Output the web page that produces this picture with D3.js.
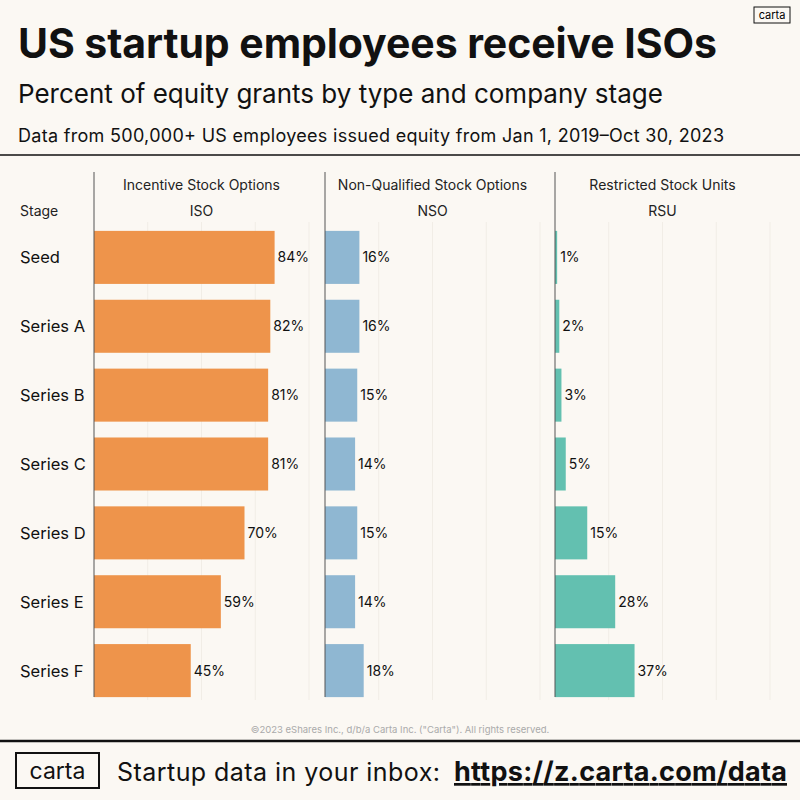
<!DOCTYPE html>
<html><head><meta charset="utf-8">
<script src="https://cdn.jsdelivr.net/npm/d3@7"></script>
<style>body{margin:0;background:#fbf8f3}</style>
</head><body><div id="chart"></div>
<script>
var stages = ["Seed","Series A","Series B","Series C","Series D","Series E","Series F"]
var iso = [84,82,81,81,70,59,45]
var nso = [16,16,15,14,15,14,18]
var rsu = [1,2,3,5,15,28,37]
var panelNames = ["Incentive Stock Options","Non-Qualified Stock Options","Restricted Stock Units"]
var panelCodes = ["ISO","NSO","RSU"]
var panelColors = ["#ee944b","#8fb7d2","#63c0b0"]
var panelStarts = [94,325,555]

var font = "Inter, 'Noto Sans', sans-serif"
var svg = d3.select("#chart").append("svg").attr("width",800).attr("height",800)
  .style("font-family",font)
svg.append("rect").attr("width",800).attr("height",800).attr("fill","#fbf8f3")

svg.append("text").attr("x",18).attr("y",58).attr("font-size",41).attr("font-weight",700)
  .attr("fill","#111").attr("textLength",699).text("US startup employees receive ISOs")
svg.append("text").attr("x",18).attr("y",103).attr("font-size",26).attr("fill","#111")
  .text("Percent of equity grants by type and company stage")
svg.append("text").attr("x",18).attr("y",142).attr("font-size",18).attr("fill","#111")
  .attr("textLength",706).text("Data from 500,000+ US employees issued equity from Jan 1, 2019–Oct 30, 2023")
// small logo top-right
svg.append("rect").attr("x",754).attr("y",7).attr("width",36).attr("height",16).attr("fill","none").attr("stroke","#111")
svg.append("text").attr("x",772).attr("y",19).attr("font-size",11).attr("text-anchor","middle").text("carta")
svg.append("line").attr("x1",0).attr("x2",800).attr("y1",155).attr("y2",155).attr("stroke","#111").attr("stroke-width",1.5)

var y = d3.scaleBand().domain(stages).range([224,704]).paddingInner(0.23).paddingOuter(0.1)
var x = d3.scaleLinear().domain([0,100]).range([0,215])

svg.append("text").attr("x",20).attr("y",216).attr("font-size",14).attr("fill","#222").text("Stage")
svg.selectAll(".stage").data(stages).join("text")
  .attr("x",20).attr("y",function(d){return y(d)+y.bandwidth()/2+6})
  .attr("font-size",16.5).attr("fill","#111").text(function(d){return d})

var series = [iso,nso,rsu]
series.forEach(function(vals,i){
  var g = svg.append("g").attr("transform","translate("+panelStarts[i]+",0)")
  g.selectAll(".grid").data([25,50,75,100]).join("line")
    .attr("x1",function(d){return x(d)}).attr("x2",function(d){return x(d)})
    .attr("y1",222).attr("y2",700).attr("stroke","#f1ede6").attr("stroke-width",1)
  g.append("text").attr("x",x(50)).attr("y",190).attr("text-anchor","middle")
    .attr("font-size",14).attr("fill","#222").text(panelNames[i])
  g.append("text").attr("x",x(50)).attr("y",216).attr("text-anchor","middle")
    .attr("font-size",14).attr("fill","#222").text(panelCodes[i])
  g.selectAll(".bar").data(vals).join("rect")
    .attr("x",0).attr("y",function(d,j){return y(stages[j])})
    .attr("width",function(d){return x(d)}).attr("height",y.bandwidth())
    .attr("fill",panelColors[i])
  g.selectAll(".lab").data(vals).join("text")
    .attr("x",function(d){return x(d)+3}).attr("y",function(d,j){return y(stages[j])+y.bandwidth()/2+5})
    .attr("font-size",14).attr("fill","#111").text(function(d){return d+"%"})
  g.append("line").attr("x1",0).attr("x2",0).attr("y1",172).attr("y2",697).attr("stroke","#555").attr("stroke-width",1)
})

svg.append("text").attr("x",400).attr("y",733).attr("text-anchor","middle").attr("font-size",9.5)
  .attr("fill","#aaa").text("©2023 eShares Inc., d/b/a Carta Inc. (\"Carta\"). All rights reserved.")
svg.append("line").attr("x1",0).attr("x2",800).attr("y1",741).attr("y2",741).attr("stroke","#111").attr("stroke-width",2.5)
svg.append("rect").attr("x",16).attr("y",753).attr("width",83).attr("height",35).attr("fill","none").attr("stroke","#111").attr("stroke-width",2)
svg.append("text").attr("x",57.5).attr("y",779).attr("text-anchor","middle").attr("font-size",23).attr("fill","#111").text("carta")
svg.append("text").attr("x",117).attr("y",781).attr("font-size",25).attr("fill","#111")
  .attr("textLength",323).text("Startup data in your inbox:")
svg.append("text").attr("x",454).attr("y",781).attr("font-size",27).attr("font-weight",700).attr("fill","#111")
  .attr("text-decoration","underline").attr("textLength",333).text("https://z.carta.com/data")
</script></body></html>
